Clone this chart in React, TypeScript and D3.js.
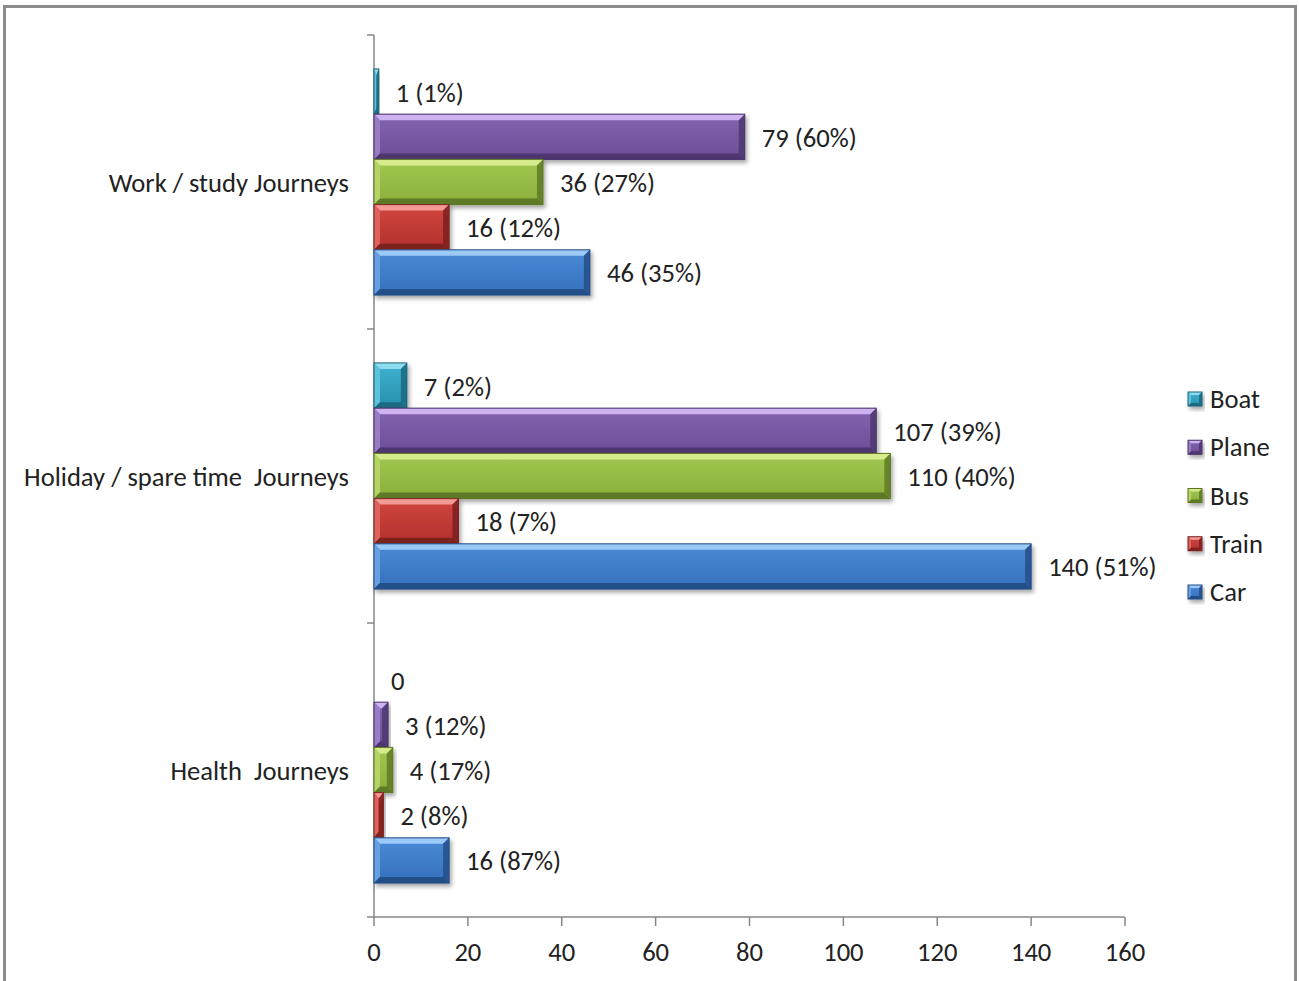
import React from "react";
import * as d3 from "d3";

// Journey purposes (top to bottom) and transport modes (top to bottom within a group)
const categories = ["Work / study Journeys", "Holiday / spare time  Journeys", "Health  Journeys"];
const modes = ["Boat", "Plane", "Bus", "Train", "Car"];

// Number of journeys per mode, one array per purpose
const workValues = [1, 79, 36, 16, 46];
const holidayValues = [7, 107, 110, 18, 140];
const healthValues = [0, 3, 4, 2, 16];

// Share of each mode within its purpose (null = no share shown)
const workShares = ["1%", "60%", "27%", "12%", "35%"];
const holidayShares = ["2%", "39%", "40%", "7%", "51%"];
const healthShares = [null, "12%", "17%", "8%", "87%"];

const xTicks = [0, 20, 40, 60, 80, 100, 120, 140, 160];

const valuesByCategory = [workValues, holidayValues, healthValues];
const sharesByCategory = [workShares, holidayShares, healthShares];

// Bevel colour sets: light edge, face top, face bottom, side edge, dark edge, outline
const palette: Record<string, { light: string; faceTop: string; faceBot: string; side: string; dark: string; line: string }> = {
  Boat: { light: "#8fdcef", faceTop: "#3fb2cf", faceBot: "#2590ad", side: "#5cc3dc", dark: "#1b6a80", line: "#1d6377" },
  Plane: { light: "#cfb2f0", faceTop: "#8463b0", faceBot: "#6d4d96", side: "#9a7bc4", dark: "#4d3670", line: "#4a3568" },
  Bus: { light: "#d6ec8c", faceTop: "#a3c853", faceBot: "#8aae3a", side: "#b4d566", dark: "#5f7a25", line: "#5c7424" },
  Train: { light: "#f49a94", faceTop: "#d0463f", faceBot: "#b3302d", side: "#de625c", dark: "#7d201e", line: "#7a2220" },
  Car: { light: "#9ccaf8", faceTop: "#4a8ad6", faceBot: "#3570bd", side: "#66a0e2", dark: "#244f88", line: "#234d84" },
};

const FONT = "Carlito, Calibri, Lato, 'Open Sans', sans-serif";
const FS = 26.6;
const TEXT = "#222222";
const AXIS = "#878787";

const x = d3.scaleLinear().domain([0, 160]).range([374, 1125]);
const yCat = d3.scaleBand<string>().domain(categories).range([35, 917]).paddingInner(0).paddingOuter(0);
// Inside each group: 5 bars with a 150% gap (0.75 bar each side)
const ySub = d3
  .scaleBand<string>()
  .domain(modes)
  .range([0, yCat.bandwidth()])
  .paddingInner(0)
  .paddingOuter(0.75);

function BevelBar({ x0, y0, w, h, mode, bevel }: { x0: number; y0: number; w: number; h: number; mode: string; bevel: number }) {
  const c = palette[mode];
  if (w <= 0) return null;
  const bx = Math.min(bevel, w / 2);
  const by = Math.min(bevel, h / 2);
  const x1 = x0 + w;
  const y1 = y0 + h;
  const pts = (arr: number[][]) => arr.map((p) => p.join(",")).join(" ");
  return (
    <g filter="url(#barShadow)">
      <rect x={x0} y={y0} width={w} height={h} fill={`url(#face-${mode})`} />
      <polygon points={pts([[x0, y0], [x1, y0], [x1 - bx, y0 + by], [x0 + bx, y0 + by]])} fill={c.light} />
      <polygon points={pts([[x0, y0], [x0 + bx, y0 + by], [x0 + bx, y1 - by], [x0, y1]])} fill={c.side} />
      <polygon points={pts([[x1, y0], [x1, y1], [x1 - bx, y1 - by], [x1 - bx, y0 + by]])} fill={c.dark} opacity={0.85} />
      <polygon points={pts([[x0, y1], [x0 + bx, y1 - by], [x1 - bx, y1 - by], [x1, y1]])} fill={c.dark} />
      <rect x={x0} y={y0} width={w} height={h} fill="none" stroke={c.line} strokeWidth={1} />
    </g>
  );
}

export default function App() {
  const barH = ySub.bandwidth();
  const legendY = d3.scalePoint<string>().domain(modes).range([399, 592]);

  return (
    <svg width={1299} height={981} style={{ position: "absolute", left: 0, top: 0, background: "#ffffff" }} fontFamily={FONT}>
      <defs>
        <filter id="barShadow" x="-10%" y="-20%" width="130%" height="160%">
          <feDropShadow dx={2} dy={3} stdDeviation={2} floodColor="#000" floodOpacity={0.35} />
        </filter>
        {modes.map((m) => (
          <linearGradient key={m} id={`face-${m}`} x1="0" y1="0" x2="0" y2="1">
            <stop offset="0%" stopColor={palette[m].faceTop} />
            <stop offset="100%" stopColor={palette[m].faceBot} />
          </linearGradient>
        ))}
      </defs>

      <rect x={0} y={0} width={1299} height={981} fill="#ffffff" />
      {/* chart frame */}
      <rect x={4.5} y={6.5} width={1291} height={1000} fill="none" stroke="#8c8c8c" strokeWidth={3} />

      {/* value axis */}
      <line x1={x(0)} x2={x(160)} y1={917} y2={917} stroke={AXIS} strokeWidth={1.5} />
      {xTicks.map((t) => (
        <g key={t}>
          <line x1={x(t)} x2={x(t)} y1={917} y2={926} stroke={AXIS} strokeWidth={1.5} />
          <text x={x(t)} y={952} textAnchor="middle" dominantBaseline="central" fontSize={FS} fill={TEXT}>
            {t}
          </text>
        </g>
      ))}

      {/* category axis */}
      <line x1={x(0)} x2={x(0)} y1={35} y2={917} stroke={AXIS} strokeWidth={1.5} />
      {[...categories.map((c) => yCat(c) as number), 917].map((yy, i) => (
        <line key={i} x1={367} x2={x(0)} y1={yy} y2={yy} stroke={AXIS} strokeWidth={1.5} />
      ))}
      {categories.map((c) => (
        <text
          key={c}
          x={349}
          y={(yCat(c) as number) + yCat.bandwidth() / 2 + 1}
          textAnchor="end"
          dominantBaseline="central"
          fontSize={FS}
          fill={TEXT}
          style={{ whiteSpace: "pre" }}
        >
          {c}
        </text>
      ))}

      {/* bars */}
      {categories.map((c, ci) =>
        modes.map((m, mi) => {
          const v = valuesByCategory[ci][mi];
          const y0 = (yCat(c) as number) + (ySub(m) as number);
          return (
            <BevelBar key={c + m} x0={x(0)} y0={y0} w={x(v) - x(0)} h={barH} mode={m} bevel={6} />
          );
        })
      )}

      {/* data labels */}
      {categories.map((c, ci) =>
        modes.map((m, mi) => {
          const v = valuesByCategory[ci][mi];
          const share = sharesByCategory[ci][mi];
          const y0 = (yCat(c) as number) + (ySub(m) as number);
          return (
            <text
              key={"l" + c + m}
              x={x(v) + 17}
              y={y0 + barH / 2 + 1}
              dominantBaseline="central"
              fontSize={FS}
              fill={TEXT}
            >
              {share ? `${v} (${share})` : `${v}`}
            </text>
          );
        })
      )}

      {/* legend */}
      {modes.map((m) => {
        const cy = legendY(m) as number;
        return (
          <g key={"lg" + m}>
            <BevelBar x0={1188} y0={cy - 7} w={14} h={14} mode={m} bevel={3} />
            <text x={1210} y={cy} dominantBaseline="central" fontSize={FS} fill={TEXT}>
              {m}
            </text>
          </g>
        );
      })}
    </svg>
  );
}
